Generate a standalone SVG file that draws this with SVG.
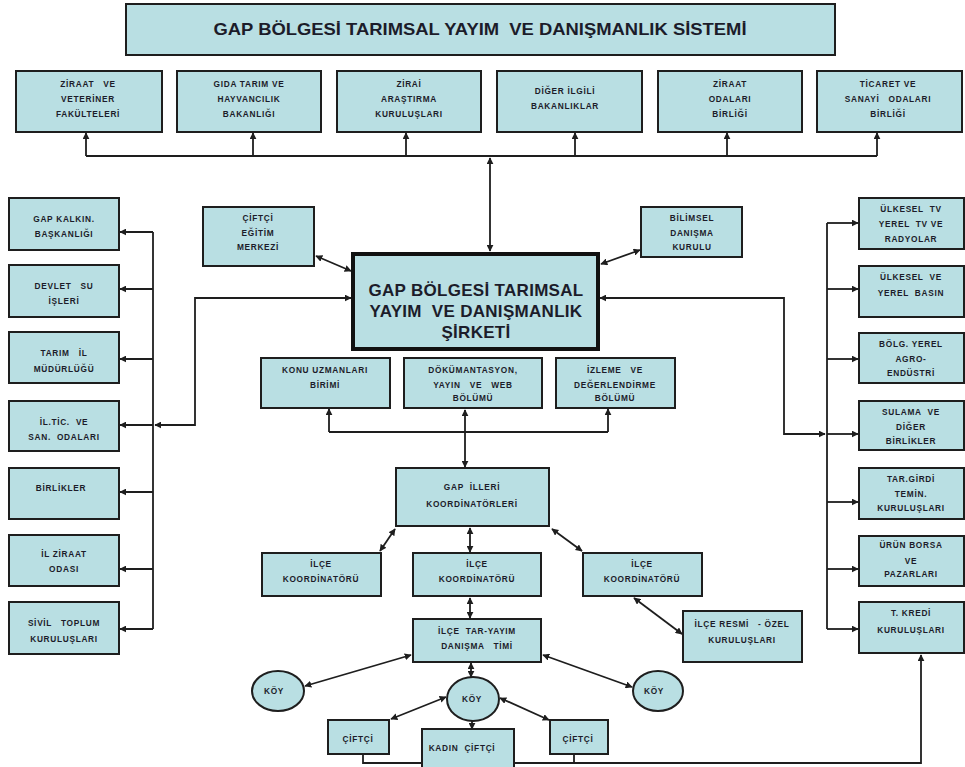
<svg xmlns="http://www.w3.org/2000/svg" width="965" height="767" viewBox="0 0 965 767">
  <style>
    .box { fill: #b9dfe3; stroke: #1e1e1e; stroke-width: 2; }
    .main { fill: #b9dfe3; stroke: #111; stroke-width: 4; }
    .t { font-family: "Liberation Sans", Arial, sans-serif; font-weight: bold; font-size: 8.3px; letter-spacing: 0.7px; fill: #1c1c2a; text-anchor: middle; white-space: pre; }
    .big { font-size: 17px; letter-spacing: 0.3px; }
    .title { font-size: 16.5px; letter-spacing: 0; }
    .c { fill: none; stroke: #1e1e1e; stroke-width: 1.8; }
  </style>
  <defs>
    <marker id="ah" viewBox="0 0 10 10" refX="9" refY="5" markerWidth="7" markerHeight="7" markerUnits="userSpaceOnUse" orient="auto-start-reverse">
      <path d="M0,0 L10,5 L0,10 z" fill="#1e1e1e"/>
    </marker>
  </defs>

  <!-- connectors -->
  <g id="connectors">
    <!-- upper bus to the six institutions -->
    <path class="c" d="M86,156 H877"/>
    <path class="c" d="M86,156 V133" marker-end="url(#ah)"/>
    <path class="c" d="M253,156 V133" marker-end="url(#ah)"/>
    <path class="c" d="M406,156 V133" marker-end="url(#ah)"/>
    <path class="c" d="M575,156 V133" marker-end="url(#ah)"/>
    <path class="c" d="M727,156 V133" marker-end="url(#ah)"/>
    <path class="c" d="M877,156 V133" marker-end="url(#ah)"/>
    <path class="c" d="M490,158 V251" marker-start="url(#ah)" marker-end="url(#ah)"/>

    <!-- left bus -->
    <path class="c" d="M153,232 V629"/>
    <path class="c" d="M153,232 H120" marker-end="url(#ah)"/>
    <path class="c" d="M153,289 H120" marker-end="url(#ah)"/>
    <path class="c" d="M153,359 H120" marker-end="url(#ah)"/>
    <path class="c" d="M153,425 H120" marker-end="url(#ah)"/>
    <path class="c" d="M153,492 H120" marker-end="url(#ah)"/>
    <path class="c" d="M153,569 H120" marker-end="url(#ah)"/>
    <path class="c" d="M153,629 H120" marker-end="url(#ah)"/>
    <path class="c" d="M351,298 H195 V425 H155" marker-start="url(#ah)" marker-end="url(#ah)"/>

    <!-- right bus -->
    <path class="c" d="M827,223 V629"/>
    <path class="c" d="M827,223 H858" marker-end="url(#ah)"/>
    <path class="c" d="M827,289 H858" marker-end="url(#ah)"/>
    <path class="c" d="M827,359 H858" marker-end="url(#ah)"/>
    <path class="c" d="M827,434 H858" marker-end="url(#ah)"/>
    <path class="c" d="M827,502 H858" marker-end="url(#ah)"/>
    <path class="c" d="M827,569 H858" marker-end="url(#ah)"/>
    <path class="c" d="M827,629 H858" marker-end="url(#ah)"/>
    <path class="c" d="M600,298 H784 V434 H825" marker-start="url(#ah)" marker-end="url(#ah)"/>

    <!-- side advisers of the company -->
    <path class="c" d="M316,256 L351,271" marker-start="url(#ah)" marker-end="url(#ah)"/>
    <path class="c" d="M601,264 L640,250" marker-start="url(#ah)" marker-end="url(#ah)"/>

    <!-- units under the company -->
    <path class="c" d="M329,432 H608"/>
    <path class="c" d="M329,432 V409" marker-end="url(#ah)"/>
    <path class="c" d="M608,432 V409" marker-end="url(#ah)"/>
    <path class="c" d="M465,410 V467" marker-start="url(#ah)" marker-end="url(#ah)"/>

    <!-- provincial to district level -->
    <path class="c" d="M395,529 L380,551" marker-start="url(#ah)" marker-end="url(#ah)"/>
    <path class="c" d="M470,528 V552" marker-start="url(#ah)" marker-end="url(#ah)"/>
    <path class="c" d="M552,529 L582,551" marker-start="url(#ah)" marker-end="url(#ah)"/>
    <path class="c" d="M470,598 V618" marker-start="url(#ah)" marker-end="url(#ah)"/>
    <path class="c" d="M634,598 L682,634" marker-start="url(#ah)" marker-end="url(#ah)"/>

    <!-- advisory team to villages -->
    <path class="c" d="M411,655 L305,686" marker-start="url(#ah)" marker-end="url(#ah)"/>
    <path class="c" d="M543,655 L632,687" marker-start="url(#ah)" marker-end="url(#ah)"/>
    <path class="c" d="M471,663 V677" marker-start="url(#ah)" marker-end="url(#ah)"/>

    <!-- village to farmers -->
    <path class="c" d="M446,697 L391,719" marker-start="url(#ah)" marker-end="url(#ah)"/>
    <path class="c" d="M500,698 L549,720" marker-start="url(#ah)" marker-end="url(#ah)"/>
    <path class="c" d="M472,721 V729" marker-end="url(#ah)"/>

    <!-- farmers to credit institutions -->
    <path class="c" d="M363,754 V763 H921 V655" marker-end="url(#ah)"/>
    <path class="c" d="M574,754 V763"/>
  </g>

  <!-- system title -->
  <g id="title">
    <rect class="box" x="126" y="4" width="709" height="51"/>
    <text class="t title" x="480" y="35" textLength="533" lengthAdjust="spacingAndGlyphs">GAP BÖLGESİ TARIMSAL YAYIM  VE DANIŞMANLIK SİSTEMİ</text>
  </g>

  <!-- upper row institutions -->
  <g id="ziraat-veteriner">
    <rect class="box" x="16" y="71" width="146" height="61"/>
    <text class="t" x="88" y="87">ZİRAAT   VE</text>
    <text class="t" x="88" y="102">VETERİNER</text>
    <text class="t" x="88" y="117">FAKÜLTELERİ</text>
  </g>
  <g id="gida-tarim">
    <rect class="box" x="177" y="71" width="144" height="61"/>
    <text class="t" x="249" y="87">GIDA TARIM VE</text>
    <text class="t" x="249" y="102">HAYVANCILIK</text>
    <text class="t" x="249" y="117">BAKANLIĞI</text>
  </g>
  <g id="zirai-arastirma">
    <rect class="box" x="337" y="71" width="144" height="61"/>
    <text class="t" x="409" y="87">ZİRAİ</text>
    <text class="t" x="409" y="102">ARAŞTIRMA</text>
    <text class="t" x="409" y="117">KURULUŞLARI</text>
  </g>
  <g id="diger-bakanliklar">
    <rect class="box" x="497" y="71" width="145" height="61"/>
    <text class="t" x="565" y="94">DİĞER İLGİLİ</text>
    <text class="t" x="565" y="109">BAKANLIKLAR</text>
  </g>
  <g id="ziraat-odalari">
    <rect class="box" x="658" y="71" width="144" height="61"/>
    <text class="t" x="730" y="87">ZİRAAT</text>
    <text class="t" x="730" y="102">ODALARI</text>
    <text class="t" x="730" y="117">BİRLİĞİ</text>
  </g>
  <g id="ticaret-sanayi">
    <rect class="box" x="817" y="71" width="145" height="61"/>
    <text class="t" x="888" y="87">TİCARET VE</text>
    <text class="t" x="888" y="102">SANAYİ   ODALARI</text>
    <text class="t" x="888" y="117">BİRLİĞİ</text>
  </g>

  <!-- left column -->
  <g id="gap-kalkinma">
    <rect class="box" x="9" y="198" width="110" height="52"/>
    <text class="t" x="64" y="222">GAP KALKIN.</text>
    <text class="t" x="64" y="237">BAŞKANLIĞI</text>
  </g>
  <g id="dsi">
    <rect class="box" x="9" y="265" width="110" height="52"/>
    <text class="t" x="64" y="289">DEVLET   SU</text>
    <text class="t" x="64" y="304">İŞLERİ</text>
  </g>
  <g id="tarim-il">
    <rect class="box" x="9" y="332" width="110" height="51"/>
    <text class="t" x="64" y="356">TARIM   İL</text>
    <text class="t" x="64" y="372">MÜDÜRLÜĞÜ</text>
  </g>
  <g id="il-tic-san">
    <rect class="box" x="9" y="401" width="110" height="50"/>
    <text class="t" x="64" y="425">İL.TİC.  VE</text>
    <text class="t" x="64" y="440">SAN.  ODALARI</text>
  </g>
  <g id="birlikler">
    <rect class="box" x="9" y="468" width="110" height="51"/>
    <text class="t" x="61" y="491">BİRLİKLER</text>
  </g>
  <g id="il-ziraat">
    <rect class="box" x="9" y="535" width="110" height="51"/>
    <text class="t" x="64" y="557">İL ZİRAAT</text>
    <text class="t" x="64" y="572">ODASI</text>
  </g>
  <g id="sivil-toplum">
    <rect class="box" x="9" y="602" width="110" height="52"/>
    <text class="t" x="64" y="626">SİVİL   TOPLUM</text>
    <text class="t" x="64" y="642">KURULUŞLARI</text>
  </g>

  <!-- right column -->
  <g id="tv-radyo">
    <rect class="box" x="859" y="198" width="105" height="51"/>
    <text class="t" x="911" y="212">ÜLKESEL  TV</text>
    <text class="t" x="911" y="227">YEREL  TV VE</text>
    <text class="t" x="911" y="242">RADYOLAR</text>
  </g>
  <g id="basin">
    <rect class="box" x="859" y="266" width="105" height="51"/>
    <text class="t" x="911" y="280">ÜLKESEL  VE</text>
    <text class="t" x="911" y="296">YEREL  BASIN</text>
  </g>
  <g id="agro-endustri">
    <rect class="box" x="859" y="333" width="105" height="50"/>
    <text class="t" x="911" y="347">BÖLG. YEREL</text>
    <text class="t" x="911" y="362">AGRO-</text>
    <text class="t" x="911" y="376">ENDÜSTRİ</text>
  </g>
  <g id="sulama">
    <rect class="box" x="859" y="401" width="105" height="49"/>
    <text class="t" x="911" y="415">SULAMA  VE</text>
    <text class="t" x="911" y="430">DİĞER</text>
    <text class="t" x="911" y="444">BİRLİKLER</text>
  </g>
  <g id="girdi-temin">
    <rect class="box" x="859" y="468" width="105" height="51"/>
    <text class="t" x="911" y="482">TAR.GİRDİ</text>
    <text class="t" x="911" y="497">TEMİN.</text>
    <text class="t" x="911" y="511">KURULUŞLARI</text>
  </g>
  <g id="borsa">
    <rect class="box" x="859" y="536" width="105" height="50"/>
    <text class="t" x="911" y="548">ÜRÜN BORSA</text>
    <text class="t" x="911" y="564">VE</text>
    <text class="t" x="911" y="577">PAZARLARI</text>
  </g>
  <g id="kredi">
    <rect class="box" x="859" y="602" width="105" height="51"/>
    <text class="t" x="911" y="616">T. KREDİ</text>
    <text class="t" x="911" y="633">KURULUŞLARI</text>
  </g>

  <!-- company and its advisers -->
  <g id="ciftci-egitim">
    <rect class="box" x="203" y="207" width="111" height="59"/>
    <text class="t" x="258" y="221">ÇİFTÇİ</text>
    <text class="t" x="258" y="236">EĞİTİM</text>
    <text class="t" x="258" y="250">MERKEZİ</text>
  </g>
  <g id="bilimsel-kurul">
    <rect class="box" x="641" y="207" width="101" height="50"/>
    <text class="t" x="692" y="221">BİLİMSEL</text>
    <text class="t" x="692" y="236">DANIŞMA</text>
    <text class="t" x="692" y="250">KURULU</text>
  </g>
  <g id="sirket">
    <rect class="main" x="353" y="254" width="245" height="95"/>
    <text class="t big" x="476" y="296">GAP BÖLGESİ TARIMSAL</text>
    <text class="t big" x="476" y="317">YAYIM  VE DANIŞMANLIK</text>
    <text class="t big" x="476" y="338">ŞİRKETİ</text>
  </g>

  <!-- company units -->
  <g id="konu-uzmanlari">
    <rect class="box" x="261" y="358" width="129" height="50"/>
    <text class="t" x="325" y="373">KONU UZMANLARI</text>
    <text class="t" x="325" y="388">BİRİMİ</text>
  </g>
  <g id="dokumantasyon">
    <rect class="box" x="404" y="358" width="138" height="50"/>
    <text class="t" x="473" y="373">DÖKÜMANTASYON,</text>
    <text class="t" x="473" y="388">YAYIN   VE   WEB</text>
    <text class="t" x="473" y="401">BÖLÜMÜ</text>
  </g>
  <g id="izleme">
    <rect class="box" x="556" y="358" width="119" height="50"/>
    <text class="t" x="615" y="373">İZLEME   VE</text>
    <text class="t" x="615" y="388">DEĞERLENDİRME</text>
    <text class="t" x="615" y="401">BÖLÜMÜ</text>
  </g>

  <!-- provincial and district coordination -->
  <g id="il-koordinatorleri">
    <rect class="box" x="396" y="468" width="153" height="58"/>
    <text class="t" x="472" y="490">GAP  İLLERİ</text>
    <text class="t" x="472" y="507">KOORDİNATÖRLERİ</text>
  </g>
  <g id="ilce-sol">
    <rect class="box" x="262" y="553" width="119" height="43"/>
    <text class="t" x="321" y="567">İLÇE</text>
    <text class="t" x="321" y="582">KOORDİNATÖRÜ</text>
  </g>
  <g id="ilce-orta">
    <rect class="box" x="413" y="553" width="128" height="43"/>
    <text class="t" x="477" y="567">İLÇE</text>
    <text class="t" x="477" y="582">KOORDİNATÖRÜ</text>
  </g>
  <g id="ilce-sag">
    <rect class="box" x="583" y="553" width="119" height="43"/>
    <text class="t" x="642" y="567">İLÇE</text>
    <text class="t" x="642" y="582">KOORDİNATÖRÜ</text>
  </g>
  <g id="ilce-resmi-ozel">
    <rect class="box" x="683" y="611" width="119" height="51"/>
    <text class="t" x="742" y="627">İLÇE RESMİ   - ÖZEL</text>
    <text class="t" x="742" y="643">KURULUŞLARI</text>
  </g>
  <g id="danisma-timi">
    <rect class="box" x="413" y="619" width="128" height="43"/>
    <text class="t" x="477" y="634">İLÇE  TAR-YAYIM</text>
    <text class="t" x="477" y="649">DANIŞMA   TİMİ</text>
  </g>

  <!-- villages -->
  <g id="koy-sol">
    <ellipse class="box" cx="278" cy="691" rx="26" ry="20"/>
    <text class="t" x="274" y="694">KÖY</text>
  </g>
  <g id="koy-orta">
    <ellipse class="box" cx="473" cy="699" rx="26" ry="22"/>
    <text class="t" x="472" y="702">KÖY</text>
  </g>
  <g id="koy-sag">
    <ellipse class="box" cx="658" cy="691" rx="25" ry="20"/>
    <text class="t" x="654" y="694">KÖY</text>
  </g>

  <!-- farmers -->
  <g id="ciftci-sol">
    <rect class="box" x="328" y="720" width="61" height="34"/>
    <text class="t" x="358" y="742">ÇİFTÇİ</text>
  </g>
  <g id="kadin-ciftci">
    <rect class="box" x="422" y="729" width="92" height="42"/>
    <text class="t" x="462" y="751">KADIN  ÇİFTÇİ</text>
  </g>
  <g id="ciftci-sag">
    <rect class="box" x="550" y="720" width="58" height="34"/>
    <text class="t" x="578" y="742">ÇİFTÇİ</text>
  </g>
</svg>
